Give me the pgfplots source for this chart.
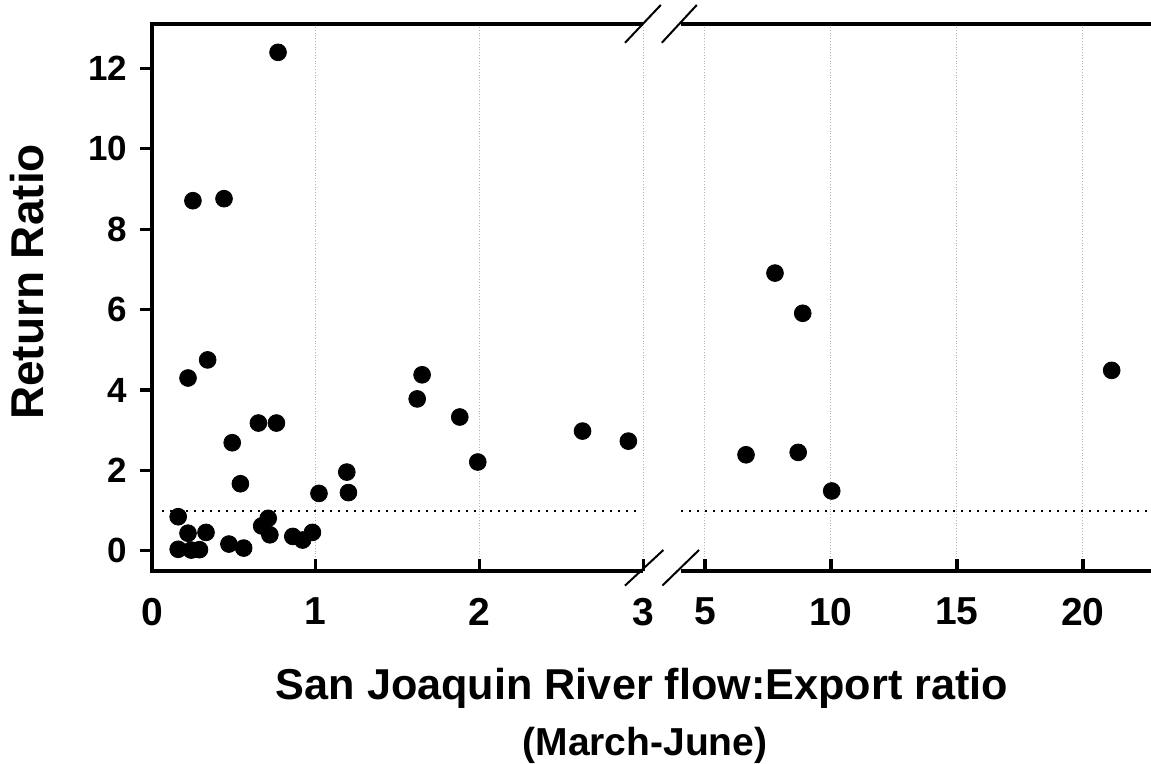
\documentclass[border=0pt]{standalone}
\usepackage{pgfplots}
\pgfplotsset{compat=1.18}
\usepackage{fontspec}
\setmainfont{Liberation Sans}

\pgfplotstableread{
x y
0.16 0.85
0.22 0.44
0.33 0.46
0.16 0.04
0.24 0.02
0.29 0.03
0.47 0.17
0.56 0.07
0.71 0.81
0.67 0.62
0.72 0.40
0.86 0.36
0.92 0.27
0.98 0.46
1.02 1.43
1.19 1.96
1.20 1.45
0.22 4.30
0.34 4.75
0.49 2.69
0.65 3.18
0.76 3.18
0.54 1.67
1.62 3.78
1.65 4.38
1.88 3.33
1.99 2.21
2.63 2.98
2.91 2.73
0.77 12.40
0.25 8.71
0.44 8.76
}\leftdata

\pgfplotstableread{
x y
6.63 2.39
8.70 2.45
7.78 6.91
8.88 5.91
10.03 1.49
21.14 4.49
}\rightdata

\begin{document}
\begin{tikzpicture}
\useasboundingbox (0,0) rectangle (575.5pt,382pt);
\pgfplotsset{
  brk/.style={
    scale only axis, clip=false,
    ymin=-0.5, ymax=13.1, height=273.4pt,
    axis line style={draw=none},
    tick style={line width=1.6pt, black},
    xmajorgrids, grid style={densely dotted, black!30, line width=0.5pt},
    xtick align=inside, ytick align=outside,
    major tick length=6pt,
    xtick pos=bottom, ytick pos=left,
    /pgf/number format/assume math mode=true,
    xticklabel style={font=\fontsize{19.5}{20}\selectfont\bfseries, yshift=-10pt},
    yticklabel style={font=\fontsize{17.5}{18}\selectfont\bfseries, xshift=-3pt},
  }
}
\begin{axis}[brk, anchor=south west, at={(76pt,96.5pt)},
  xmin=0, xmax=3, width=245.55pt,
  xtick={0,1,2,3}, ytick={0,2,4,6,8,10,12}]
  \addplot[black, line width=1pt, dash pattern=on 1pt off 3pt] coordinates {(0.06,1) (2.97,1)};
  \addplot[only marks, mark=*, mark size=4.2pt, black] table[x=x,y=y] {\leftdata};
  \draw[line width=2.2pt, line join=miter] (rel axis cs:1,1) -- (rel axis cs:0,1) -- (rel axis cs:0,0) -- (rel axis cs:1,0);
\end{axis}
\begin{axis}[brk, anchor=south west, at={(340.5pt,96.5pt)},
  xmin=4.05, xmax=22.7, width=234.99pt,
  xtick={5,10,15,20}, ytick=\empty]
  \addplot[black, line width=1pt, dash pattern=on 1pt off 3pt] coordinates {(4.05,1) (22.7,1)};
  \addplot[only marks, mark=*, mark size=4.2pt, black] table[x=x,y=y] {\rightdata};
  \draw[line width=2.2pt] (rel axis cs:0,1) -- (rel axis cs:1,1);
  \draw[line width=2.2pt] (rel axis cs:0,0) -- (rel axis cs:1,0);
\end{axis}
% axis break marks
\draw[line width=1pt] (312.5pt,360.6pt) -- (330.4pt,379.5pt);
\draw[line width=1pt] (330.9pt,360.6pt) -- (348.4pt,379.5pt);
\draw[line width=1pt] (312.5pt,89.2pt) -- (331.7pt,107pt);
\draw[line width=1pt] (331.2pt,89.2pt) -- (349.5pt,107pt);
% labels
\node[rotate=90, anchor=base, font=\fontsize{23}{25}\selectfont\bfseries] at (21.5pt,241pt) {Return Ratio};
\node[anchor=base, font=\fontsize{21.6}{24}\selectfont\bfseries] at (321pt,32pt) {San Joaquin River flow:Export ratio};
\node[anchor=base, font=\fontsize{19.5}{22}\selectfont\bfseries] at (322.5pt,4pt) {(March-June)};
\end{tikzpicture}
\end{document}
